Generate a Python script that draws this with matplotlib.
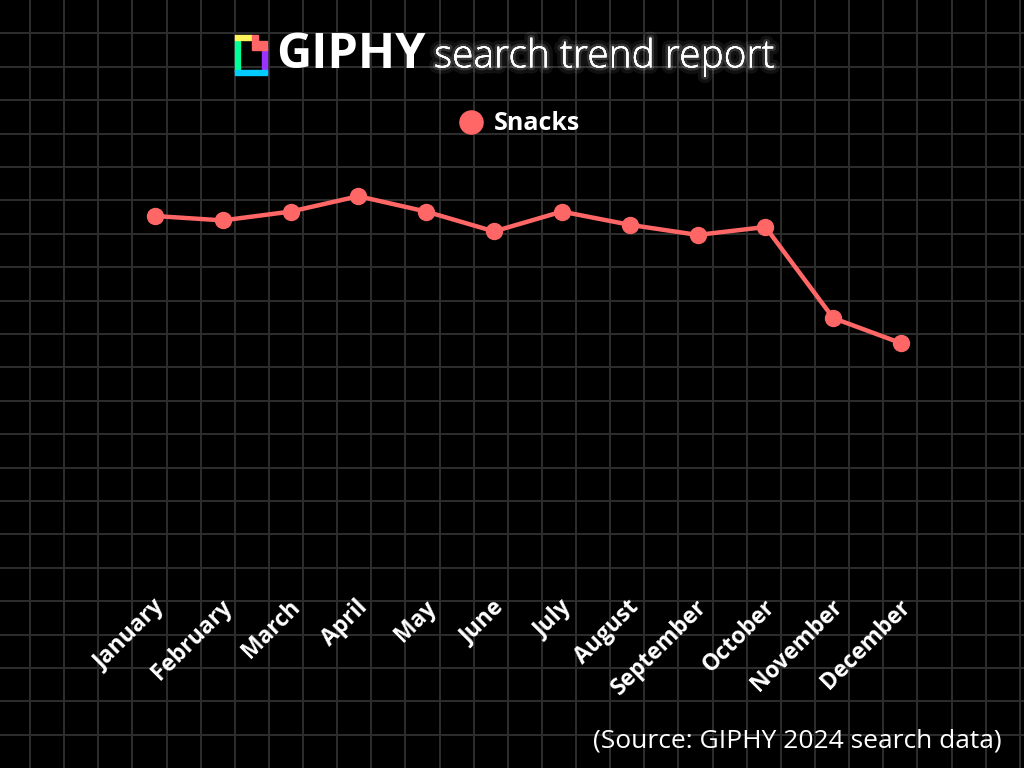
import numpy as np
import matplotlib
matplotlib.use("Agg")
import matplotlib.pyplot as plt
import matplotlib.transforms as mtransforms
from matplotlib.patches import Rectangle, Polygon
import matplotlib.patheffects as pe

months = ["January", "February", "March", "April", "May", "June", "July",
          "August", "September", "October", "November", "December"]
snacks = [85, 84, 86, 89.5, 86, 81.5, 86, 83, 80.7, 82.5, 61.8, 56.1]

LINE = "#ff6666"
GRID = "#2e2e2e"
FONT = "Open Sans"

W, H = 1024, 768
fig = plt.figure(figsize=(W / 100, H / 100), dpi=100, facecolor="black")

# background grid + logo, drawn in pixel coordinates
bg = fig.add_axes([0, 0, 1, 1])
bg.set_xlim(0, W)
bg.set_ylim(H, 0)
bg.axis("off")
bg.set_facecolor("black")
for gx in np.arange(30 - 34.13, W, 34.13):
    bg.axvline(gx, color=GRID, lw=1.4, zorder=0)
for gy in np.arange(33.4, H, 33.4):
    bg.axhline(gy, color=GRID, lw=1.4, zorder=0)

# GIPHY logo
logo = [
    ((235, 40), 5, 32, "#00ff99"),
    ((235, 35), 17, 5, "#fff35c"),
    ((262, 48), 5, 26, "#9933ff"),
    ((235, 70), 32, 5, "#00ccff"),
]
for (lx, ly), lw_, lh, lc in logo:
    bg.add_patch(Rectangle((lx, ly), lw_, lh, color=lc, zorder=2))
bg.add_patch(Polygon([(252, 35), (258, 35), (258, 41), (267, 41), (267, 50),
                      (252, 50)], closed=True, color="#ff6666", zorder=3))

fig.text(276 / W, 0.928, "GIPHY", color="white", fontsize=35, family=FONT,
         fontweight="bold", va="center", ha="left")
glow = [pe.withStroke(linewidth=9, foreground=(1, 1, 1, 0.07)),
        pe.withStroke(linewidth=4, foreground=(1, 1, 1, 0.14)),
        pe.Normal()]
fig.text(434 / W, 0.926, "search trend report", color="white", fontsize=28,
         family=FONT, fontweight="light", va="center", ha="left",
         path_effects=glow)

fig.text(1002 / W, 1 - 747 / H, "(Source: GIPHY 2024 search data)",
         color="white", fontsize=19, family=FONT, ha="right", va="baseline")

ax = fig.add_axes([121 / W, 1 - 590 / H, (935 - 121) / W, 440 / H])
ax.patch.set_alpha(0)
x = np.arange(len(months))
ax.plot(x, snacks, color=LINE, lw=3.2, marker="o", ms=11.5, label="Snacks",
        solid_capstyle="round")
ax.set_xlim(-0.5, len(months) - 0.5)
ax.set_ylim(0, 100)
ax.set_yticks([])
ax.set_xticks(x)
ax.set_xticklabels(months, rotation=45, ha="right", va="center",
                   rotation_mode="anchor", color="white", fontsize=16.5,
                   family=FONT, fontweight="bold")
ax.tick_params(axis="x", length=0, pad=10)
shift = mtransforms.ScaledTranslation(6 / 100, 0, fig.dpi_scale_trans)
for lbl in ax.get_xticklabels():
    lbl.set_transform(lbl.get_transform() + shift)
for s in ax.spines.values():
    s.set_visible(False)

leg = ax.legend(loc="center", bbox_to_anchor=(0.497, (590 - 124) / 440),
                frameon=False, handlelength=0, handletextpad=0.9,
                markerscale=1.45, prop={"family": FONT, "weight": "bold",
                                        "size": 18})
for t in leg.get_texts():
    t.set_color("white")
for h in leg.legend_handles:
    h.set_linestyle("none")

fig.savefig("out.png", dpi=100, facecolor="black")
